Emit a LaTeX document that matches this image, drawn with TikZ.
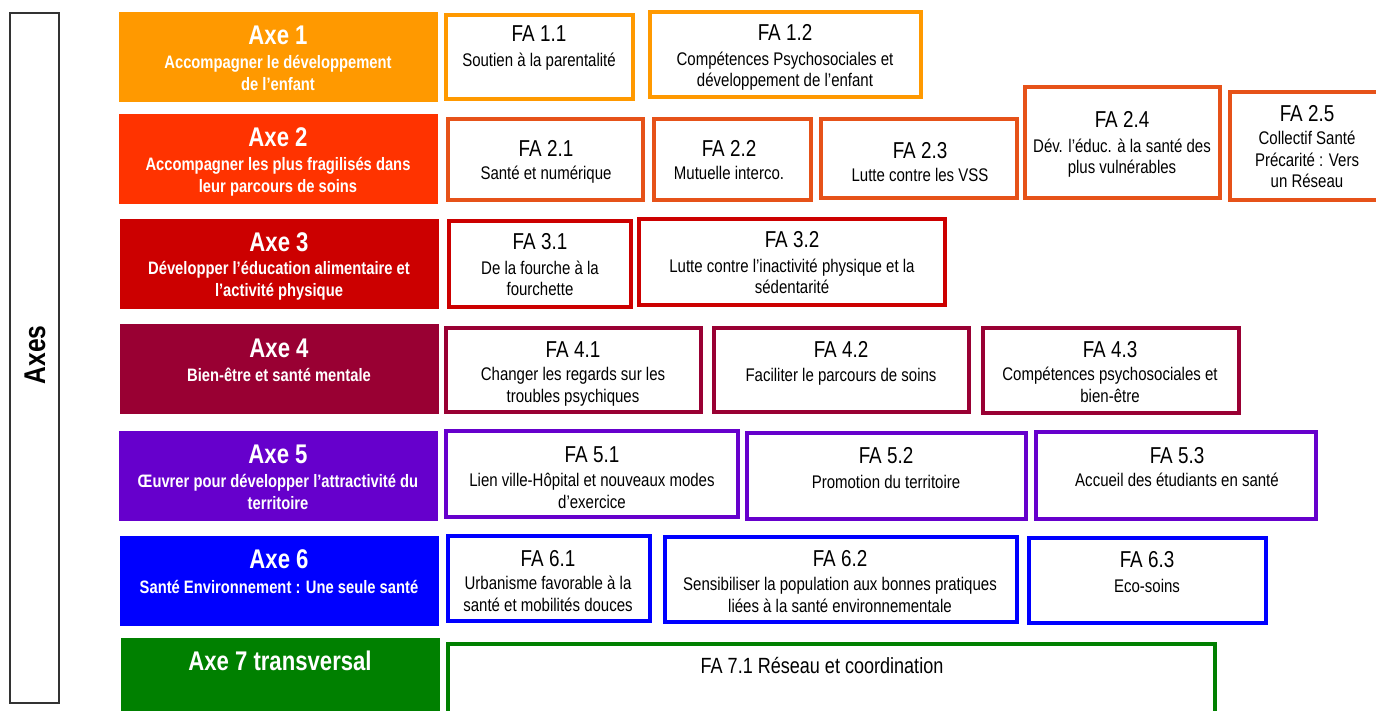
\documentclass[tikz,border=0pt]{standalone}
\usepackage{fontspec}
\setmainfont{Liberation Sans}[FakeStretch=0.82]
\usetikzlibrary{fit}
\definecolor{a1}{HTML}{FF9900}
\definecolor{a2}{HTML}{FF3300}
\definecolor{f2}{HTML}{E65219}
\definecolor{a3}{HTML}{CC0000}
\definecolor{a4}{HTML}{990033}
\definecolor{a5}{HTML}{6600CC}
\definecolor{a6}{HTML}{0000FF}
\definecolor{a7}{HTML}{008000}
\definecolor{axesline}{HTML}{333333}
\begin{document}
\begin{tikzpicture}[x=1pt,y=-1pt,
  axebox/.style={inner sep=0pt, draw=none},
  fabox/.style={inner sep=0pt, line width=3.5pt, fill=white},
  axetitle/.style={anchor=base, text=white, font=\bfseries\fontsize{27}{30}\selectfont, inner sep=0pt},
  axesub/.style={anchor=base, text=white, align=center, font=\bfseries\fontsize{18}{22}\selectfont, inner sep=0pt},
  fatitle/.style={anchor=base, font=\fontsize{23}{26}\selectfont, inner sep=0pt},
  fadesc/.style={anchor=base, align=center, font=\fontsize{18.3}{21.5}\selectfont, inner sep=0pt},
]
\useasboundingbox (0,0) rectangle (1376,711);

% Axes side box
\node[inner sep=0pt, draw=axesline, line width=1.2pt, fit={(10,13) (59,703)}] (axes) {};
\node[rotate=90, font=\bfseries\fontsize{30}{32}\selectfont, inner sep=0pt] (axeslabel) at (35,355) {Axes};

% Axe boxes
\node[axebox, fill=a1, fit={(119,12) (438,102)}] (axe1) {};
\node[axebox, fill=a2, fit={(119,114) (438,204)}] (axe2) {};
\node[axebox, fill=a3, fit={(120,219) (439,309)}] (axe3) {};
\node[axebox, fill=a4, fit={(120,324) (439,414)}] (axe4) {};
\node[axebox, fill=a5, fit={(119,431) (438,521)}] (axe5) {};
\node[axebox, fill=a6, fit={(120,536) (439,626)}] (axe6) {};
\node[axebox, fill=a7, fit={(121,638) (440,720)}] (axe7) {};

% (multi-line texts are anchored at the baseline of their last line)
\node[axetitle] (axe1t) at (278,45) {Axe 1};
\node[axesub] (axe1s) at (278,91) {Accompagner le développement\\de l’enfant};
\node[axetitle] (axe2t) at (278,147) {Axe 2};
\node[axesub] (axe2s) at (278,193) {Accompagner les plus fragilisés dans\\leur parcours de soins};
\node[axetitle] (axe3t) at (279,252) {Axe 3};
\node[axesub] (axe3s) at (279,297) {Développer l’éducation alimentaire et\\l’activité physique};
\node[axetitle] (axe4t) at (279,357) {Axe 4};
\node[axesub] (axe4s) at (279,381) {Bien-être et santé mentale};
\node[axetitle] (axe5t) at (278,463) {Axe 5};
\node[axesub] (axe5s) at (278,509) {Œuvrer pour développer l’attractivité du\\territoire};
\node[axetitle] (axe6t) at (279,568) {Axe 6};
\node[axesub] (axe6s) at (279,593) {Santé Environnement : Une seule santé};
\node[axetitle] (axe7t) at (280,670) {Axe 7 transversal};

% FA boxes
\node[fabox, draw=a1, fit={(446,15) (633,99)}] (fa11) {};
\node[fabox, draw=a1, fit={(650,12) (921,97)}] (fa12) {};
\node[fabox, draw=f2, fit={(448,119) (643,200)}] (fa21) {};
\node[fabox, draw=f2, fit={(654,119) (811,200)}] (fa22) {};
\node[fabox, draw=f2, fit={(821,119) (1017,198)}] (fa23) {};
\node[fabox, draw=f2, fit={(1025,87) (1220,198)}] (fa24) {};
\node[fabox, draw=f2, fit={(1230,92) (1386,200)}] (fa25) {};
\node[fabox, draw=a3, fit={(449,221) (631,307)}] (fa31) {};
\node[fabox, draw=a3, fit={(639,219) (945,305)}] (fa32) {};
\node[fabox, draw=a4, fit={(446,328) (701,412)}] (fa41) {};
\node[fabox, draw=a4, fit={(714,328) (969,412)}] (fa42) {};
\node[fabox, draw=a4, fit={(983,328) (1239,413)}] (fa43) {};
\node[fabox, draw=a5, fit={(446,431) (738,517)}] (fa51) {};
\node[fabox, draw=a5, fit={(747,433) (1026,519)}] (fa52) {};
\node[fabox, draw=a5, fit={(1036,432) (1316,519)}] (fa53) {};
\node[fabox, draw=a6, fit={(448,536) (650,621)}] (fa61) {};
\node[fabox, draw=a6, fit={(665,537) (1017,622)}] (fa62) {};
\node[fabox, draw=a6, fit={(1029,538) (1266,623)}] (fa63) {};
\node[fabox, draw=a7, fit={(448,644) (1215,720)}] (fa71) {};

% FA texts
\node[fatitle] (fa11t) at (539,42) {FA 1.1};
\node[fadesc] (fa11d) at (539,67) {Soutien à la parentalité};
\node[fatitle] (fa12t) at (785,41) {FA 1.2};
\node[fadesc] (fa12d) at (785,87) {Compétences Psychosociales et\\développement de l’enfant};
\node[fatitle] (fa21t) at (546,157) {FA 2.1};
\node[fadesc] (fa21d) at (546,180) {Santé et numérique};
\node[fatitle] (fa22t) at (729,157) {FA 2.2};
\node[fadesc] (fa22d) at (729,180) {Mutuelle interco.};
\node[fatitle] (fa23t) at (920,159) {FA 2.3};
\node[fadesc] (fa23d) at (920,182) {Lutte contre les VSS};
\node[fatitle] (fa24t) at (1122,128) {FA 2.4};
\node[fadesc] (fa24d) at (1122,174) {Dév. l’éduc. à la santé des\\plus vulnérables};
\node[fatitle] (fa25t) at (1307,122) {FA 2.5};
\node[fadesc] (fa25d) at (1307,188) {Collectif Santé\\Précarité : Vers\\un Réseau};
\node[fatitle] (fa31t) at (540,250) {FA 3.1};
\node[fadesc] (fa31d) at (540,296) {De la fourche à la\\fourchette};
\node[fatitle] (fa32t) at (792,248) {FA 3.2};
\node[fadesc] (fa32d) at (792,294) {Lutte contre l’inactivité physique et la\\sédentarité};
\node[fatitle] (fa41t) at (573,357) {FA 4.1};
\node[fadesc] (fa41d) at (573,402) {Changer les regards sur les\\troubles psychiques};
\node[fatitle] (fa42t) at (841,357) {FA 4.2};
\node[fadesc] (fa42d) at (841,381) {Faciliter le parcours de soins};
\node[fatitle] (fa43t) at (1110,357) {FA 4.3};
\node[fadesc] (fa43d) at (1110,402) {Compétences psychosociales et\\bien-être};
\node[fatitle] (fa51t) at (592,462) {FA 5.1};
\node[fadesc] (fa51d) at (592,508) {Lien ville-Hôpital et nouveaux modes\\d’exercice};
\node[fatitle] (fa52t) at (886,463) {FA 5.2};
\node[fadesc] (fa52d) at (886,488) {Promotion du territoire};
\node[fatitle] (fa53t) at (1177,463) {FA 5.3};
\node[fadesc] (fa53d) at (1177,486) {Accueil des étudiants en santé};
\node[fatitle] (fa61t) at (548,566) {FA 6.1};
\node[fadesc] (fa61d) at (548,611) {Urbanisme favorable à la\\santé et mobilités douces};
\node[fatitle] (fa62t) at (840,566) {FA 6.2};
\node[fadesc] (fa62d) at (840,612) {Sensibiliser la population aux bonnes pratiques\\liées à la santé environnementale};
\node[fatitle] (fa63t) at (1147,567) {FA 6.3};
\node[fadesc] (fa63d) at (1147,592) {Eco-soins};
\node[anchor=base, font=\fontsize{22}{24}\selectfont, inner sep=0pt] (fa71t) at (822,673) {FA 7.1 Réseau et coordination};
\end{tikzpicture}
\end{document}
